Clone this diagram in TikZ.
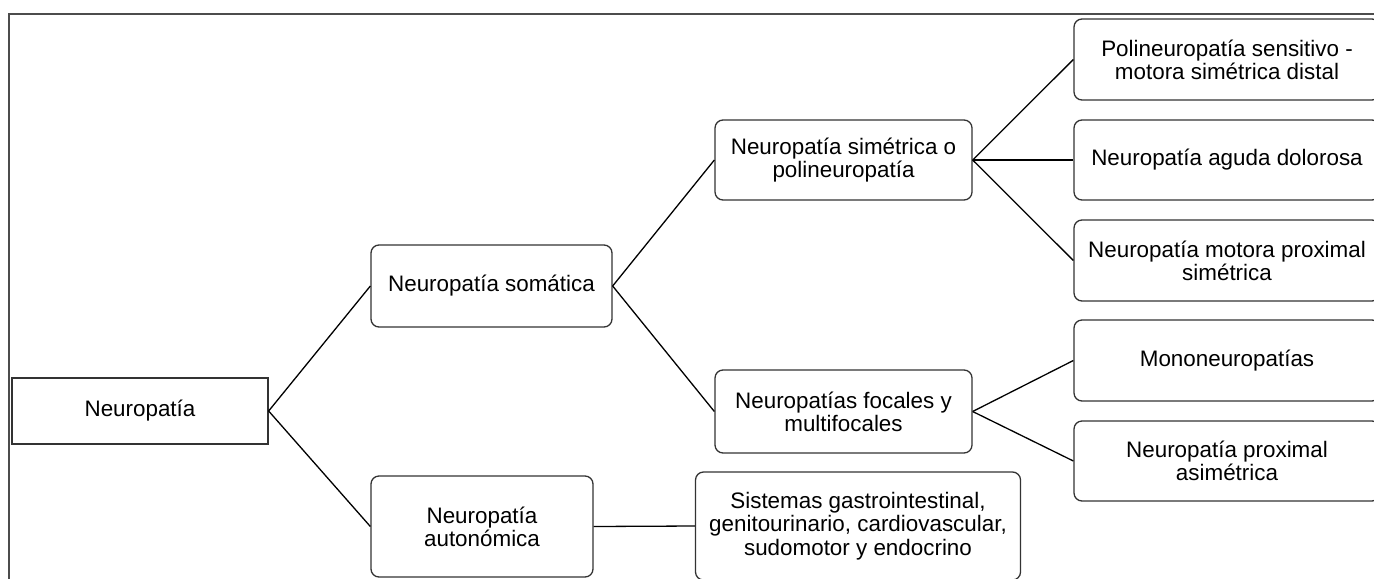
\documentclass[tikz,border=0pt]{standalone}
\usepackage{fontspec}
\setmainfont{Liberation Sans}
\begin{document}
\begin{tikzpicture}[x=0.5pt,y=-0.5pt,line width=0.65pt,
        box/.style={draw=black!80, align=center, inner sep=0pt, font=\fontsize{11.2}{11.6}\selectfont},
        rbox/.style={box, rounded corners=4pt},
        wide/.style={rbox, minimum width=153pt}]
        \useasboundingbox (0,0) rectangle (1374,578);
        \clip (0,0) rectangle (1374,578);
        % Frame
        \draw[black!70] (9,600) -- (9,14) -- (1400,14);
        % Nodes
        \node[box, minimum width=128pt, minimum height=33pt] (neuro) at (140,411) {Neuropatía};
        \node[rbox, minimum width=120.5pt, minimum height=41pt] (soma) at (491.5,286) {Neuropatía somática};
        \node[rbox, minimum width=111pt, minimum height=50.5pt] (auto) at (482,526.5) {Neuropatía\\autonómica};
        \node[rbox, minimum width=128.5pt, minimum height=40pt] (sime) at (843.5,160) {Neuropatía simétrica o\\polineuropatía};
        \node[rbox, minimum width=128.5pt, minimum height=41.5pt] (foca) at (843.5,411.5) {Neuropatías focales y\\multifocales};
        \node[rbox, minimum width=162.5pt, minimum height=54pt] (sist) at (858,526) {Sistemas gastrointestinal,\\genitourinario, cardiovascular,\\sudomotor y endocrino};
        \node[wide, minimum height=40.5pt] (poli) at (1227,59.5) {Polineuropatía sensitivo -\\motora simétrica distal};
        \node[wide, minimum height=40pt] (agud) at (1227,160) {Neuropatía aguda dolorosa};
        \node[wide, minimum height=40.5pt] (moto) at (1227,260.5) {Neuropatía motora proximal\\simétrica};
        \node[wide, minimum height=40.5pt] (mono) at (1227,360.5) {Mononeuropatías};
        \node[wide, minimum height=40pt] (asim) at (1227,461) {Neuropatía proximal\\asimétrica};
        % Lines
        \draw (neuro.east) -- (soma.west);
        \draw (neuro.east) -- (auto.west);
        \draw (soma.east) -- (sime.west);
        \draw (soma.east) -- (foca.west);
        \draw (auto.east) -- (sist.west);
        \draw (sime.east) -- (poli.west);
        \draw (sime.east) -- (agud.west);
        \draw (sime.east) -- (moto.west);
        \draw (foca.east) -- (mono.west);
        \draw (foca.east) -- (asim.west);

    \end{tikzpicture}
\end{document}
